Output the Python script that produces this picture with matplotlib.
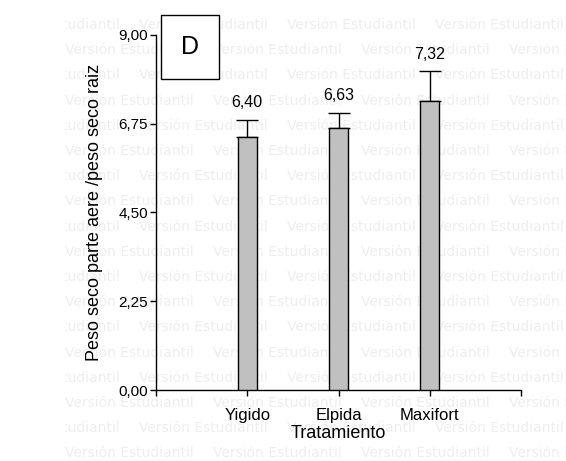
import matplotlib
matplotlib.use("Agg")
import matplotlib.pyplot as plt
from matplotlib.patches import Rectangle
from matplotlib.transforms import Bbox, TransformedBbox

tratamientos = ["Yigido", "Elpida", "Maxifort"]
medias = [6.40, 6.63, 7.32]
errores = [0.44, 0.39, 0.75]
etiquetas = ["6,40", "6,63", "7,32"]
y_ticks = [0, 2.25, 4.5, 6.75, 9.0]
y_ticklabels = ["0,00", "2,25", "4,50", "6,75", "9,00"]
marca = "Versión Estudiantil"

W, H = 566, 461
plt.rcParams["font.family"] = ["Liberation Sans", "DejaVu Sans"]

fig = plt.figure(figsize=(W / 100, H / 100), dpi=100)
fig.patch.set_facecolor("white")

# watermark rows behind everything
clip = TransformedBbox(Bbox([[65 / W, 0], [1, 1]]), fig.transFigure)
for i in range(18):
    y = 25 + i * 25.2
    x0 = -9 if i % 2 == 0 else 65
    for k in range(5):
        t = fig.text((x0 + k * 148) / W, 1 - y / H, marca, fontsize=10,
                     family="DejaVu Sans", color="#eeeeee", va="center",
                     ha="left", zorder=-1)
        t.set_clip_box(clip)
        t.set_clip_on(True)

ax = fig.add_axes([156 / W, 1 - 390 / H, (521 - 156) / W, (390 - 34.7) / H])
ax.patch.set_alpha(0)

x = [1, 2, 3]
ax.bar(x, medias, width=0.21, color="#c0c0c0", edgecolor="black", linewidth=1.0, zorder=3)
ax.errorbar(x, medias, yerr=[[0, 0, 0], errores], fmt="none", ecolor="black",
            elinewidth=1.0, capsize=8, capthick=1.0, zorder=2)
for xi, m, e, lab in zip(x, medias, errores, etiquetas):
    ax.annotate(lab, (xi, m + e), xytext=(0, 7), textcoords="offset points",
                ha="center", va="bottom", fontsize=11.5)

ax.set_xlim(0, 4)
ax.set_ylim(0, 9)
ax.set_xticks([0, 1, 2, 3, 4])
ax.set_xticklabels([""] + tratamientos + [""], fontsize=12)
ax.set_yticks(y_ticks)
ax.set_yticklabels(y_ticklabels, fontsize=11)
ax.tick_params(axis="x", length=4.3, width=1.0, pad=9)
ax.tick_params(axis="y", length=4.3, width=1.0, pad=1.5)

for s in ["top", "right"]:
    ax.spines[s].set_visible(False)
for s in ["left", "bottom"]:
    ax.spines[s].set_linewidth(1.0)

ax.set_xlabel("Tratamiento", fontsize=13, labelpad=1)
ax.set_ylabel("Peso seco parte aere /peso seco raiz", fontsize=13)
ax.yaxis.set_label_coords(-0.145, 0.5)

# panel letter box
fig.patches.append(Rectangle((161 / W, 1 - 79 / H), 58 / W, 64 / H,
                             transform=fig.transFigure, facecolor="white",
                             edgecolor="black", linewidth=1.0, zorder=5))
fig.text(190 / W, 1 - 47 / H, "D", fontsize=18, ha="center", va="center", zorder=6)

fig.savefig("out.png", dpi=100)
